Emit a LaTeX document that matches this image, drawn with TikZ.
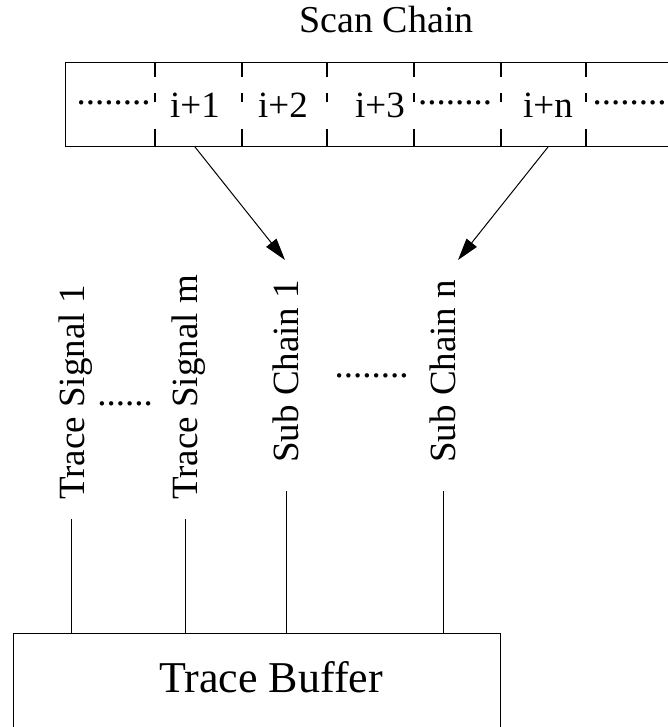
\documentclass[tikz,border=0pt]{standalone}
\usepackage{fontspec}
\setmainfont{Liberation Serif}
\usetikzlibrary
  {
    arrows.meta,
  }
\tikzset
  {
    >={Triangle[length=22pt, width=13pt]},
    label text/.style=
      {
        inner sep=0pt,
        font=\fontsize{37}{40}\selectfont,
      },
    big text/.style=
      {
        inner sep=0pt,
        font=\fontsize{44}{48}\selectfont,
      },
    chain box/.style=
      {
        draw,
        line width=1pt,
        rectangle,
        inner sep=0pt,
        anchor=north west,
      },
    divider/.style=
      {
        line width=2.6pt,
        dash pattern=on 15pt off 16pt on 9pt off 27pt on 20pt off 20pt,
      },
    signal/.style={label text, rotate=90, anchor=base west},
    dot row/.style={label text, anchor=base},
    wire/.style={line width=1pt},
  }

\begin{document}
\begin{tikzpicture}[x=1pt, y=-1pt]
  \clip (0,0) rectangle (668,727);

  % scan chain on top
  \node[label text, font=\fontsize{38}{42}\selectfont, anchor=base]
    (title) at (386.5,33) {Scan Chain};
  \node[chain box, minimum width=640pt, minimum height=84pt] (scan) at (65,62) {};
  \foreach \x in {155,242,327,414,501,586}
    \draw[divider] (\x,62) -- (\x,146);

  \begin{scope}[every node/.style={label text, anchor=base}]
    \node (dots a) at (113.5,105) {........};
    \node (cell 1) at (195,118) {i+1};
    \node (cell 2) at (283,118) {i+2};
    \node (cell 3) at (380,118) {i+3};
    \node (dots b) at (455,105) {........};
    \node (cell n) at (548,118) {i+n};
    \node (dots c) at (629.5,105) {........};
  \end{scope}

  % signals
  \begin{scope}[every node/.style={signal}]
    \node (sig 1) at (84,500) {Trace Signal 1};
    \node (sig m) at (197,500) {Trace Signal m};
    \node (sub 1) at (298,463) {Sub Chain 1};
    \node (sub n) at (455,463) {Sub Chain n};
  \end{scope}
  \node[dot row] (sig dots) at (125,405) {......};
  \node[dot row] (sub dots) at (371.5,377) {........};

  % buffer
  \node[chain box, minimum width=487pt, minimum height=130pt] (buffer) at (13,633) {};
  \node[big text, anchor=base] (buffer label) at (271,692) {Trace Buffer};

  \coordinate (sig 1 end) at (71,519);
  \coordinate (sig m end) at (185,519);
  \coordinate (sub 1 end) at (286,491);
  \coordinate (sub n end) at (443,491);
  \foreach \s in {sig 1 end, sig m end, sub 1 end, sub n end}
    \draw[wire] (\s) -- (\s |- buffer.north);

  \coordinate (tip 1) at (285,260);
  \coordinate (tip n) at (458,260);
  \draw[wire, ->] (cell 1 |- scan.south) -- (tip 1);
  \draw[wire, ->] (cell n |- scan.south) -- (tip n);
\end{tikzpicture}
\end{document}
